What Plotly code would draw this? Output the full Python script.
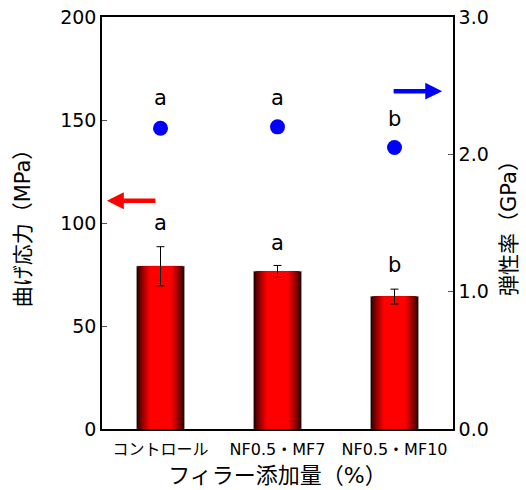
import plotly.graph_objects as go

# --- data ---
categories = ["コントロール", "NF0.5・MF7", "NF0.5・MF10"]
bending_stress = [79.0, 76.5, 64.3]          # MPa
bending_stress_err = [9.5, 2.9, 3.6]
bending_letters = ["a", "a", "b"]
bending_letter_pos = [100.0, 90.3, 79.6]     # MPa

modulus = [2.19, 2.20, 2.05]                 # GPa
modulus_err = [0.04, 0.04, 0.04]
modulus_letters = ["a", "a", "b"]
modulus_letter_pos = [2.41, 2.41, 2.26]      # GPa

left_ticks = [0, 50, 100, 150, 200]
right_ticks = [0, 1, 2, 3]
right_ticktext = ["0.0", "1.0", "2.0", "3.0"]

FONT = "DejaVu Sans, Noto Sans CJK JP"

fig = go.Figure()

# bars drawn as stacked overlay layers to give a dark-edge / red-centre shading
bar_width = 0.41
n_layers = 14
for i in range(n_layers):
    t = i / (n_layers - 1)
    w = bar_width * (1 - 0.55 * t)
    r = int(20 + 235 * (t ** 0.7))
    last = i == n_layers - 1
    fig.add_trace(go.Bar(
        x=categories, y=bending_stress, width=w,
        marker=dict(color=f"rgb({r},0,0)",
                    line=dict(color="#9a9a9a" if i == 0 else f"rgb({r},0,0)",
                              width=1 if i == 0 else 0)),
        error_y=dict(type="data", array=bending_stress_err, color="black",
                     thickness=1, width=4, visible=last),
        showlegend=False, hoverinfo="skip" if not last else None,
        yaxis="y",
    ))

# modulus points on the secondary axis
fig.add_trace(go.Scatter(
    x=categories, y=modulus, mode="markers", yaxis="y2",
    marker=dict(color="#0000ff", size=15),
    error_y=dict(type="data", array=modulus_err, color="#555555",
                 thickness=1, width=3),
    showlegend=False,
))

annotations = []
for c, txt, yy in zip(categories, bending_letters, bending_letter_pos):
    annotations.append(dict(x=c, y=yy, xref="x", yref="y", text=txt,
                            showarrow=False, font=dict(size=21, color="black", family=FONT)))
for c, txt, yy in zip(categories, modulus_letters, modulus_letter_pos):
    annotations.append(dict(x=c, y=yy, xref="x", yref="y2", text=txt,
                            showarrow=False, font=dict(size=21, color="black", family=FONT)))

# axis indicator arrows
annotations.append(dict(x=0.014, y=110.8, xref="paper", yref="y", text="",
                        showarrow=True, ax=50, ay=0, arrowcolor="#ff0000",
                        arrowwidth=4.5, arrowhead=2, arrowsize=0.75))
annotations.append(dict(x=0.969, y=2.46, xref="paper", yref="y2", text="",
                        showarrow=True, ax=-50, ay=0, arrowcolor="#0000ff",
                        arrowwidth=4.5, arrowhead=2, arrowsize=0.75))

fig.update_layout(
    width=526, height=490,
    margin=dict(l=102, r=73, t=17, b=61),
    paper_bgcolor="white", plot_bgcolor="white",
    barmode="overlay",
    font=dict(family=FONT, color="black"),
    annotations=annotations,
    xaxis=dict(
        automargin=False,
        showline=True, mirror=True, linecolor="black", linewidth=1.5,
        ticks="", showgrid=False, ticklabelstandoff=5,
        tickfont=dict(size=16, family=FONT),
        title=dict(text="フィラー添加量（%）", font=dict(size=22, family=FONT), standoff=10),
    ),
    yaxis=dict(
        automargin=False,
        range=[0, 200], tickvals=left_ticks,
        ticks="inside", ticklen=5, tickcolor="#555555", tickwidth=1,
        showline=True, linecolor="black", linewidth=1.5,
        showgrid=False, zeroline=False,
        tickfont=dict(size=19, family=FONT),
        title=dict(text="曲げ応力（MPa）", font=dict(size=21, family=FONT), standoff=24),
    ),
    yaxis2=dict(
        automargin=False,
        range=[0, 3], tickvals=right_ticks, ticktext=right_ticktext,
        overlaying="y", side="right",
        ticks="inside", ticklen=5, tickcolor="#555555", tickwidth=1,
        showline=True, linecolor="black", linewidth=1.5,
        showgrid=False, zeroline=False,
        tickfont=dict(size=19, family=FONT),
        title=dict(text="弾性率（GPa）", font=dict(size=21, family=FONT), standoff=14),
    ),
)

fig.write_html("out.html")
